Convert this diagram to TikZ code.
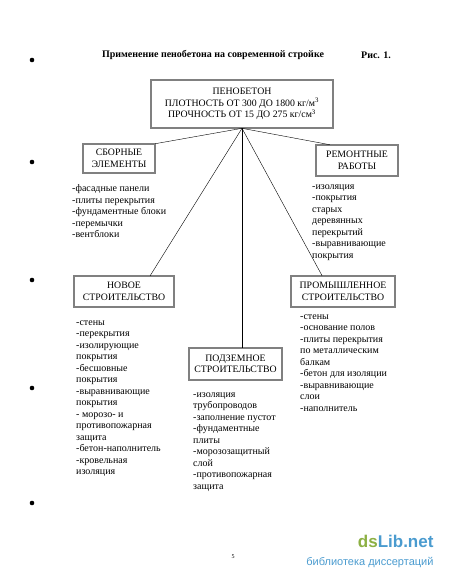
\documentclass[tikz,border=0pt]{standalone}
\usepackage{fontspec}
\setmainfont{Liberation Serif}
\newfontfamily\wmfont{Liberation Sans}
\usepackage{xcolor}
\usetikzlibrary{calc,positioning}
\definecolor{framec}{HTML}{202020}
\definecolor{wmgreen}{HTML}{8CB043}
\definecolor{wmblue}{HTML}{4A9BCF}
\tikzset{
  box/.style={draw=framec,double=black!50,double distance=1.3pt,line width=0.6pt,align=center,inner sep=2pt,font=\fontsize{9.8}{11.5}\selectfont},
  lst/.style={anchor=north west,align=left,inner sep=0pt,font=\fontsize{10}{11.5}\selectfont},
  ln/.style={thin,black},
  hole/.style={fill=black}
}

\begin{document}
\begin{tikzpicture}[x=1pt,y=-1pt]
\useasboundingbox (0,0) rectangle (450,581);
% title
\node[font=\bfseries\fontsize{10}{11}\selectfont] (title) at (213,55) {Применение пенобетона на современной стройке};
\node[font=\bfseries\fontsize{10}{11}\selectfont] (fig) at (376,55) {Рис. 1.};
% boxes
\node[box,minimum width=182,minimum height=48] (top) at (242,104)
  {ПЕНОБЕТОН\\ПЛОТНОСТЬ ОТ 300 ДО 1800 кг/м\textsuperscript{3}\\ПРОЧНОСТЬ ОТ 15 ДО 275 кг/см\textsuperscript{3}};
\node[box,minimum width=72,minimum height=29] (sborn) at (119,158.5) {СБОРНЫЕ\\ЭЛЕМЕНТЫ};
\node[box,minimum width=82,minimum height=31] (remont) at (357,160.5) {РЕМОНТНЫЕ\\РАБОТЫ};
\node[box,minimum width=100,minimum height=31] (novoe) at (124,291.5) {НОВОЕ\\СТРОИТЕЛЬСТВО};
\node[box,minimum width=93,minimum height=32] (podzem) at (235.5,364) {ПОДЗЕМНОЕ\\СТРОИТЕЛЬСТВО};
\node[box,minimum width=104,minimum height=31] (prom) at (343,291.5) {ПРОМЫШЛЕННОЕ\\СТРОИТЕЛЬСТВО};
% connectors
\draw[ln] (top.south) -- (sborn.north east);
\draw[ln] (top.south) -- ($(remont.north west)!0.17!(remont.north east)$);
\draw[ln] (top.south) -- ($(novoe.north west)!0.76!(novoe.north east)$);
\draw[ln] (top.south) -- (top.south |- podzem.north);
\draw[ln] (top.south) -- ($(prom.north west)!0.3!(prom.north east)$);
% lists
\node[lst] (sbornL) at (72,184.5) {-фасадные панели\\-плиты перекрытия\\-фундаментные блоки\\-перемычки\\-вентблоки};
\node[lst] (remontL) at (312,184.5) {-изоляция\\-покрытия\\старых\\деревянных\\перекрытий\\-выравнивающие\\покрытия};
\node[lst] (novoeL) at (76,320.5) {-стены\\-перекрытия\\-изолирующие\\покрытия\\-бесшовные\\покрытия\\-выравнивающие\\покрытия\\- морозо- и\\противопожарная\\защита\\-бетон-наполнитель\\-кровельная\\изоляция};
\node[lst] (podzemL) at (193,392.5) {-изоляция\\трубопроводов\\-заполнение пустот\\-фундаментные\\плиты\\-морозозащитный\\слой\\-противопожарная\\защита};
\node[lst] (promL) at (300,314.5) {-стены\\-основание полов\\-плиты перекрытия\\по металлическим\\балкам\\-бетон для изоляции\\-выравнивающие\\слои\\-наполнитель};
% punch holes
\foreach \yy in {60,162,280,388,503}
  \fill[hole] (32,\yy) circle (2.3pt);
% page number and mark
\node[font=\fontsize{6}{7}\selectfont] (pnum) at (233,557) {5};
\node[font=\wmfont\bfseries\fontsize{17}{18}\selectfont,anchor=east] (wm) at (437,541) {\textcolor{wmgreen}{ds}\textcolor{wmblue}{Lib.net}};
\node[font=\wmfont\fontsize{11}{12}\selectfont,text=wmblue,anchor=east] (wmsub) at (437,563) {библиотека диссертаций};
\end{tikzpicture}
\end{document}
